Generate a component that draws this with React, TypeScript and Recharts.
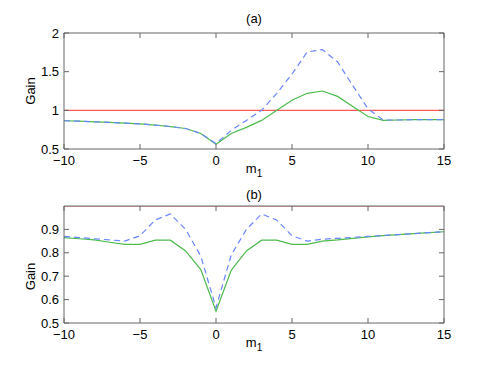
import { LineChart, Line, XAxis, YAxis, Label } from "recharts";

const m1 = [-10, -9, -8, -7, -6, -5, -4, -3, -2, -1, 0, 1, 2, 3, 4, 5, 6, 7, 8, 9, 10, 11, 12, 13, 14, 15];

// panel (a)
const gainA_dashed = [0.865, 0.86, 0.852, 0.845, 0.835, 0.825, 0.81, 0.79, 0.765, 0.7, 0.57, 0.74, 0.87, 1.0, 1.22, 1.47, 1.755, 1.785, 1.625, 1.32, 1.02, 0.875, 0.875, 0.88, 0.88, 0.88];
const gainA_solid = [0.865, 0.86, 0.852, 0.845, 0.835, 0.825, 0.81, 0.79, 0.765, 0.7, 0.56, 0.7, 0.78, 0.87, 1.0, 1.13, 1.22, 1.25, 1.18, 1.05, 0.92, 0.87, 0.875, 0.88, 0.88, 0.88];

// panel (b)
const gainB_dashed = [0.87, 0.865, 0.86, 0.855, 0.85, 0.873, 0.94, 0.966, 0.9, 0.786, 0.565, 0.79, 0.9, 0.966, 0.94, 0.873, 0.85, 0.858, 0.862, 0.866, 0.87, 0.874, 0.878, 0.882, 0.886, 0.89];
const gainB_solid = [0.865, 0.86, 0.855, 0.845, 0.836, 0.836, 0.854, 0.854, 0.808, 0.728, 0.55, 0.725, 0.808, 0.854, 0.854, 0.836, 0.836, 0.85, 0.855, 0.862, 0.868, 0.873, 0.878, 0.882, 0.886, 0.89];

const reference = 1;

const xTicks = [-10, -5, 0, 5, 10, 15];
const yTicksA = [0.5, 1, 1.5, 2];
const yTicksB = [0.5, 0.6, 0.7, 0.8, 0.9];

const dataA = m1.map((m, i) => ({ m, dashed: gainA_dashed[i], solid: gainA_solid[i], ref: reference }));
const dataB = m1.map((m, i) => ({ m, dashed: gainB_dashed[i], solid: gainB_solid[i], ref: reference }));

const font = "'Liberation Sans', Arial, sans-serif";
const axisColor = "#666";
const fmt = (v: number) => String(v).replace("-", "\u2212");

const Panel = ({
  data,
  title,
  yDomain,
  yTicks,
  margin,
  gainShift,
  titleGap,
}: {
  data: any[];
  title: string;
  yDomain: [number, number];
  yTicks: number[];
  margin: { top: number; right: number; bottom: number; left: number };
  gainShift: number;
  titleGap: number;
}) => (
  <LineChart width={491} height={184} data={data} margin={margin} style={{ fontFamily: font, display: "block" }}>
    <XAxis
      dataKey="m"
      type="number"
      domain={[-10, 15]}
      ticks={xTicks}
      tickFormatter={fmt}
      tickSize={-5}
      tickMargin={12}
      height={35}
      stroke={axisColor}
      tick={{ fill: "#000", fontSize: 13 }}
      interval={0}
    >
      <Label
        content={({ viewBox }: any) => (
          <text x={viewBox.x + viewBox.width / 2} y={viewBox.y + 24} textAnchor="middle" fontSize={13} fill="#000">
            m<tspan fontSize={10} dy={4}>1</tspan>
          </text>
        )}
      />
    </XAxis>
    <XAxis
      xAxisId="top"
      orientation="top"
      dataKey="m"
      type="number"
      domain={[-10, 15]}
      ticks={xTicks}
      tickFormatter={() => ""}
      tickSize={-5}
      height={1}
      stroke={axisColor}
      interval={0}
    >
      <Label
        content={({ viewBox }: any) => (
          <text x={viewBox.x + viewBox.width / 2} y={viewBox.y - titleGap} textAnchor="middle" fontSize={13} fill="#000">
            {title}
          </text>
        )}
      />
    </XAxis>
    <YAxis
      type="number"
      domain={yDomain}
      ticks={yTicks}
      tickSize={-5}
      tickMargin={10}
      width={64}
      stroke={axisColor}
      tick={{ fill: "#000", fontSize: 13 }}
      interval={0}
      allowDataOverflow
    >
      <Label
        content={({ viewBox }: any) => {
          const cy = viewBox.y + viewBox.height / 2 + gainShift;
          return (
            <text x={35} y={cy} textAnchor="middle" fontSize={13} fill="#000" transform={`rotate(-90 35 ${cy})`}>
              Gain
            </text>
          );
        }}
      />
    </YAxis>
    <YAxis
      yAxisId="right"
      orientation="right"
      type="number"
      domain={yDomain}
      ticks={yTicks}
      tickFormatter={() => ""}
      tickSize={-5}
      width={1}
      stroke={axisColor}
      interval={0}
      allowDataOverflow
    />
    <Line type="linear" dataKey="ref" stroke="#ff5a5a" strokeWidth={1.2} dot={false} isAnimationActive={false} />
    <Line type="linear" dataKey="solid" stroke="#4cbb4c" strokeWidth={1.2} dot={false} isAnimationActive={false} />
    <Line
      type="linear"
      dataKey="dashed"
      stroke="#6a86ff"
      strokeWidth={1.2}
      strokeDasharray="6 4"
      dot={false}
      isAnimationActive={false}
    />
  </LineChart>
);

export default function App() {
  return (
    <div style={{ position: "absolute", left: 0, top: 0, width: 491, height: 368, background: "#fff" }}>
      <Panel
        data={dataA}
        title="(a)"
        yDomain={[0.5, 2]}
        yTicks={yTicksA}
        margin={{ top: 32, right: 46, bottom: 0, left: 0 }}
        gainShift={0}
        titleGap={9}
      />
      <Panel
        data={dataB}
        title="(b)"
        yDomain={[0.5, 1]}
        yTicks={yTicksB}
        margin={{ top: 21, right: 46, bottom: 10, left: 0 }}
        gainShift={12}
        titleGap={6}
      />
    </div>
  );
}
